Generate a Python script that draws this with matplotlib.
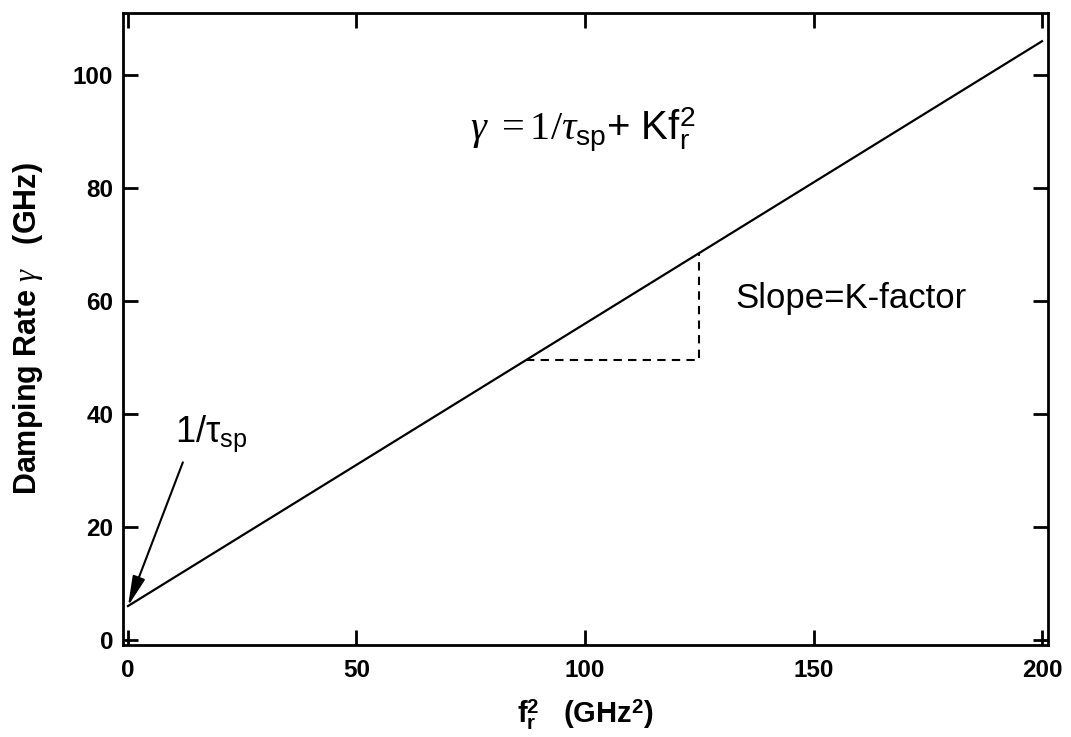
import matplotlib
matplotlib.use("Agg")
import matplotlib.pyplot as plt

plt.rcParams['font.family'] = ['Liberation Sans', 'DejaVu Sans']
plt.rcParams['mathtext.fontset'] = 'custom'
plt.rcParams['mathtext.rm'] = 'Liberation Serif'
plt.rcParams['mathtext.it'] = 'Liberation Serif:italic'
plt.rcParams['mathtext.sf'] = 'Liberation Sans'
plt.rcParams['mathtext.bf'] = 'Liberation Sans:bold'

# data
fit_x = [0, 200]
fit_y = [6, 106]
slope_x = [87, 125, 125]
slope_y = [49.5, 49.5, 68.5]
x_ticks = [0, 50, 100, 150, 200]
y_ticks = [0, 20, 40, 60, 80, 100]
intercept = (0, 6)

fig = plt.figure(figsize=(10.71, 7.37), dpi=100)
ax = fig.add_axes([0.1148, 0.1248, 0.9785 - 0.1148, 0.9824 - 0.1248])

ax.plot(fit_x, fit_y, color='black', lw=1.6)
ax.plot(slope_x, slope_y, color='black', lw=1.5, ls=(0, (4, 3)))

ax.set_xlim(-1.1, 201.3)
ax.set_ylim(-0.9, 111.0)
ax.set_xticks(x_ticks)
ax.set_yticks(y_ticks)
ax.tick_params(direction='in', length=11, width=2, top=True, right=True,
               labelsize=17.5)
ax.tick_params(axis='x', pad=10)
ax.tick_params(axis='y', pad=7)
for lab in ax.get_xticklabels() + ax.get_yticklabels():
    lab.set_fontweight('bold')
for s in ax.spines.values():
    s.set_linewidth(2)

ax.set_xlabel(r'f$_{\mathbf{r}}^{\mathbf{2}}$   (GHz$^{\mathbf{2}}$)',
              fontsize=21, fontweight='bold', labelpad=11)
ax.set_ylabel(r'Damping Rate $\gamma$   (GHz)', fontsize=22,
              fontweight='bold', labelpad=20)

ax.text(74.8, 88.5, r'$\gamma\ =1/\tau_{\mathsf{sp}}$+ Kf$_{\mathsf{r}}^{\mathsf{2}}$',
        fontsize=29, ha='left', va='baseline')
ax.text(132.8, 60.5, 'Slope=K-factor', fontsize=25, ha='left', va='center')

ax.annotate(r'1/$\mathsf{\tau}_{\mathsf{sp}}$', xy=intercept, xytext=(10.3, 35),
            fontsize=26, ha='left', va='baseline',
            arrowprops=dict(arrowstyle='-|>,head_length=0.7,head_width=0.15',
                            color='black', lw=1.5, shrinkA=4, shrinkB=0,
                            relpos=(0.15, 0)))

fig.savefig('out.png', dpi=100)
